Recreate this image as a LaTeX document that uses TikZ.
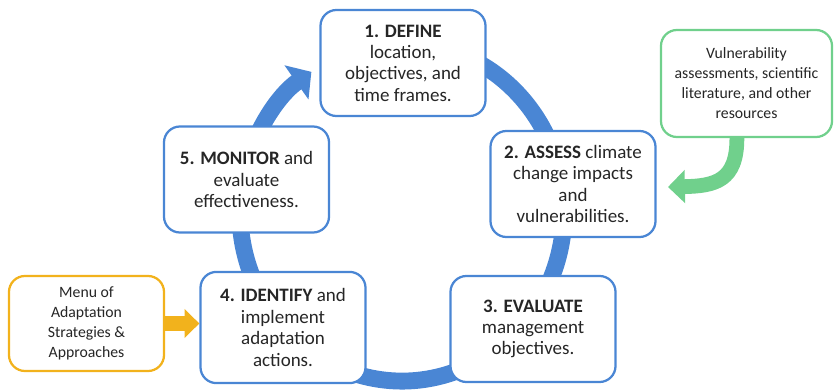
\documentclass[tikz,border=0pt]{standalone}
\usepackage{fontspec}
\setmainfont{Carlito}
\usepackage{tikz}
\usetikzlibrary{arrows.meta}
\definecolor{ringblue}{RGB}{74,134,212}
\definecolor{srcgreen}{RGB}{112,208,140}
\definecolor{menugold}{RGB}{242,178,28}
\definecolor{txtgray}{RGB}{38,38,38}

\begin{document}
\begin{tikzpicture}[x=0.025cm,y=0.025cm,
  stepbox/.style={draw=ringblue,line width=1.6pt,fill=white,rounded corners=0.4cm,align=center,text=txtgray,
    inner sep=0pt,minimum width=4.125cm,minimum height=2.65cm,font=\fontsize{13.5}{15.2}\selectfont},
  sidebox/.style={stepbox,font=\fontsize{11.2}{14.2}\selectfont},
  ringarrow/.style={draw=ringblue,line width=12pt,-{Triangle[width=29pt,length=13pt]}},
  feedarrow/.style={draw=srcgreen,line width=10.5pt,-{Triangle[width=23pt,length=12pt]}},
  menuarrow/.style={draw=menugold,line width=10pt,-{Triangle[width=20pt,length=10.5pt]}}]
\useasboundingbox (0,0) rectangle (835,389);
\coordinate(hub)at(402,177);
\draw[ringarrow]([shift={(75:4.05cm and 4.225cm)}]hub) arc[start angle=75,end angle=-236,x radius=4.05cm,y radius=4.225cm];
\node[stepbox](define)at(403,326){\textbf{1. DEFINE}\\location,\\objectives, and\\time frames.};
\node[stepbox](assess)at(573,205){\textbf{2. ASSESS} climate\\change impacts\\and\\vulnerabilities.};
\node[stepbox](evaluate)at(533,60){\textbf{3. EVALUATE}\\management\\objectives.};
\node[stepbox,minimum height=2.78cm](identify)at(283,61.5){\textbf{4. IDENTIFY} and\\implement\\adaptation\\actions.};
\node[stepbox](monitor)at(246.5,209.5){\textbf{5. MONITOR} and\\evaluate\\effectiveness.};
\node[sidebox,draw=srcgreen,minimum width=4.275cm,minimum height=2.675cm](sources)at(746.5,305.5){Vulnerability\\assessments, scientific\\literature, and other\\resources};
\node[sidebox,draw=menugold,minimum width=3.875cm,minimum height=2.375cm](menu)at(86.5,65.5){Menu of\\Adaptation\\Strategies \&\\Approaches};
\coordinate(feedtip)at(668,202);
\draw[feedarrow]([xshift=-0.24cm]sources.south) .. controls (737,208) and (715,203) .. (feedtip);
\draw[menuarrow](menu.east)--(menu.east-|identify.west);
\end{tikzpicture}
\end{document}
